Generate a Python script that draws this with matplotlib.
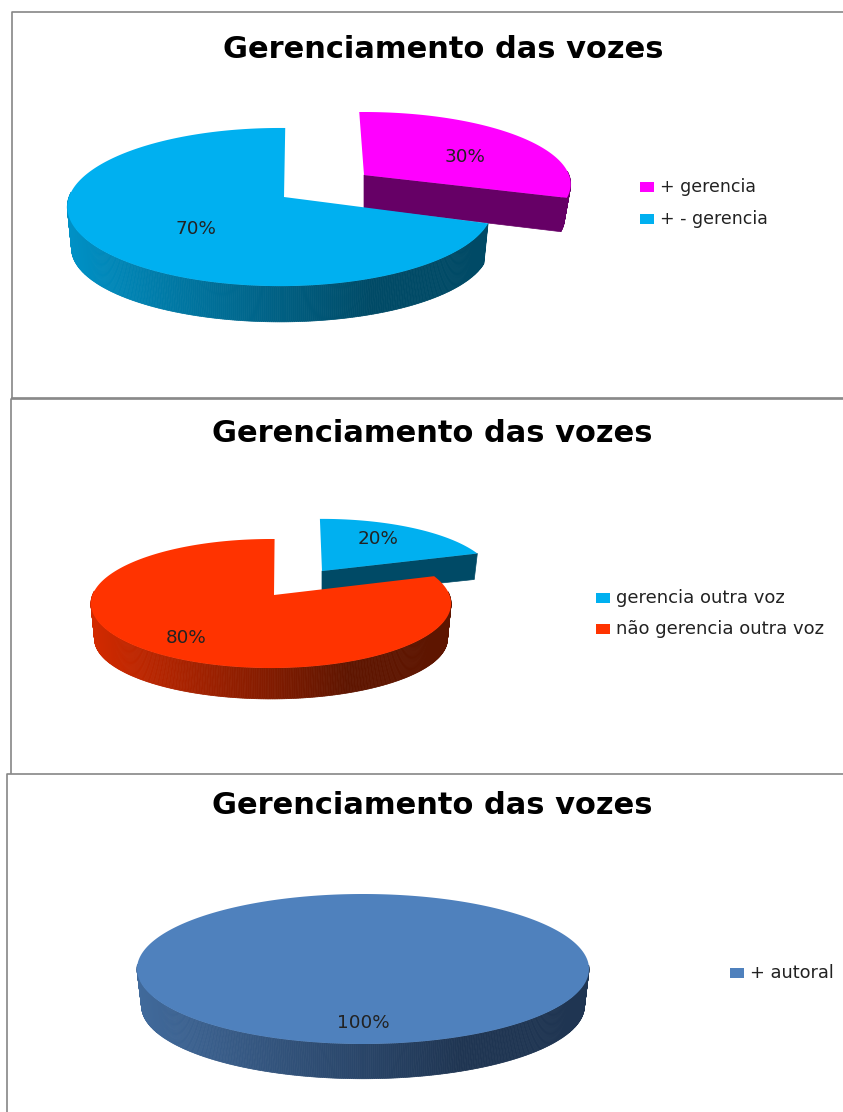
import numpy as np
import matplotlib
matplotlib.use('Agg')
import matplotlib.pyplot as plt
from matplotlib.patches import Rectangle

title = 'Gerenciamento das vozes'

labels_1 = ['+ gerencia', '+ - gerencia']
values_1 = [30, 70]
colors_1 = ['#FF00FF', '#00B0F0']
darks_1 = ['#660066', '#004A66']

labels_2 = ['gerencia outra voz', 'não gerencia outra voz']
values_2 = [20, 80]
colors_2 = ['#00B0F0', '#FF3300']
darks_2 = ['#004A66', '#5E1500']

labels_3 = ['+ autoral']
values_3 = [100]
colors_3 = ['#4F81BD']
darks_3 = ['#1F3552']

W, H = 843, 1112
fig = plt.figure(figsize=(W / 100, H / 100), dpi=100)
ax = fig.add_axes([0, 0, 1, 1])
ax.set_xlim(0, W)
ax.set_ylim(H, 0)
ax.axis('off')


def rim(geo, thetas):
    # circulo em perspectiva -> topo do disco
    t = np.radians(thetas)
    u, v = np.sin(t), np.cos(t)
    w = 1 + geo['k'] * v
    return geo['cx'] + geo['rx'] * u / w, geo['cy'] - geo['ry'] * v / w


def lower(geo, x, y):
    # borda de baixo da parede
    x2 = geo['cx'] + (x - geo['cx']) * geo['nx']
    y2 = geo['cy'] + (y - geo['cy']) * geo['ny'] + geo['depth']
    return x2, y2


def shade(color, dark, f):
    c1 = np.array(matplotlib.colors.to_rgb(color)) * 0.82
    c2 = np.array(matplotlib.colors.to_rgb(dark))
    return tuple(c1 + (c2 - c1) * min(f / 0.72, 1))


def draw_slice(geo, start, end, color, dark, cut=False):
    thetas = np.linspace(start, end, int(abs(end - start) * 2) + 1)
    x, y = rim(geo, thetas)
    tip = geo.get('tip', (geo['cx'], geo['cy']))
    xl, yl = lower(geo, x, y)

    # parede curva, em tiras para o degrade
    xmin, xmax = geo['cx'] - geo['rx'], geo['cx'] + geo['rx']
    for i in range(len(thetas) - 1):
        if np.cos(np.radians(thetas[i])) > 0.06:
            continue
        f = (x[i] - xmin) / (xmax - xmin)
        c = shade(color, dark, f)
        ax.fill([x[i], x[i + 1], xl[i + 1], xl[i]],
                [y[i], y[i + 1], yl[i + 1], yl[i]],
                color=c, lw=0.5, zorder=geo['z'])

    if cut:
        tl = (tip[0], tip[1] + geo['depth'] * 0.95)
        ax.fill([tip[0], x[-1], xl[-1], tl[0]], [tip[1], y[-1], yl[-1], tl[1]],
                color=dark, lw=0.5, zorder=geo['z'])

    if abs(end - start) >= 360:
        ax.fill(x, y, color=color, lw=0, zorder=geo['z'] + 0.5)
    else:
        ax.fill(np.r_[tip[0], x], np.r_[tip[1], y], color=color, lw=0, zorder=geo['z'] + 0.5)


def legend(labels, colors, x, ys, size):
    for lab, col, yy in zip(labels, colors, ys):
        ax.add_patch(Rectangle((x, yy - 5), 14, 10, color=col, lw=0, zorder=5))
        ax.text(x + 20, yy, lab, fontsize=size, color='#222222', va='center', ha='left', zorder=5)


def pct(v, x, y):
    ax.text(x, y, f'{v}%', fontsize=13.2, color='#222222', ha='center', va='center', zorder=6)


# molduras
frame = '#868686'
ax.plot([W, 12, 12], [12, 12, 398], color=frame, lw=1.2, zorder=1)
ax.plot([W, 11, 11], [399, 399, 773], color=frame, lw=1.2, zorder=1)
ax.plot([12, W], [398, 398], color=frame, lw=1.2, zorder=1)
ax.plot([W, 7, 7], [774, 774, H], color=frame, lw=1.2, zorder=1)

# grafico 1
ang = [v * 3.6 for v in values_1]
draw_slice(dict(cx=364, cy=175, rx=205, ry=71, k=0.127, depth=35, nx=0.97, ny=0.95, z=2, tip=(364, 175)),
           -1.5, ang[0], colors_1[0], darks_1[0], cut=True)
draw_slice(dict(cx=280, cy=197, rx=211, ry=77.8, k=0.127, depth=42, nx=0.98, ny=0.93, z=3, tip=(284, 197)),
           ang[0] + 1, 361.6, colors_1[1], darks_1[1])
pct(values_1[0], 465, 157)
pct(values_1[1], 196, 229)
legend(labels_1, colors_1, 640, [187, 219], 12.5)
ax.text(443, 50, title, fontsize=22, fontweight='bold', ha='center', va='center', color='black')

# grafico 2
ang = [v * 3.6 for v in values_2]
draw_slice(dict(cx=322, cy=571, rx=170, ry=59, k=0.132, depth=26, nx=0.98, ny=1.0, z=2, tip=(322, 571)),
           -0.8, ang[0], colors_2[0], darks_2[0], cut=True)
draw_slice(dict(cx=271, cy=595, rx=178.5, ry=63.4, k=0.132, depth=36, nx=0.98, ny=0.93, z=3, tip=(274, 595)),
           ang[0], 361.3, colors_2[1], darks_2[1])
pct(values_2[0], 378, 539)
pct(values_2[1], 186, 638)
legend(labels_2, colors_2, 596, [598, 629], 13)
ax.text(432, 433, title, fontsize=22, fontweight='bold', ha='center', va='center', color='black')

# grafico 3
draw_slice(dict(cx=363, cy=969, rx=226, ry=75, k=0.0, depth=37, nx=0.98, ny=0.97, z=2),
           0, values_3[0] * 3.6, colors_3[0], darks_3[0])
pct(values_3[0], 363, 1023)
legend(labels_3, colors_3, 730, [973], 12.8)
ax.text(432, 805, title, fontsize=22, fontweight='bold', ha='center', va='center', color='black')

plt.savefig('out.png', dpi=100)
